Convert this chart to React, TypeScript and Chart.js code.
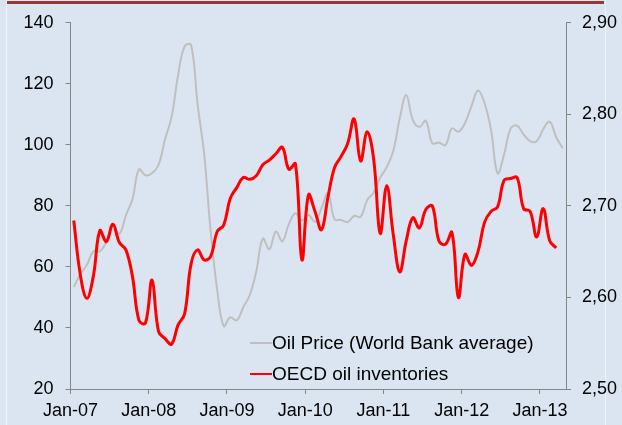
import React, { useEffect, useRef } from "react";
import { Chart, registerables } from "chart.js";

Chart.register(...registerables);

// X axis: months since Jan-07; tick labels every 12 months
const xTickLabels = ["Jan-07", "Jan-08", "Jan-09", "Jan-10", "Jan-11", "Jan-12", "Jan-13"];
const xTickMonths = [0, 12, 24, 36, 48, 60, 72];
const xMaxMonth = 76;

// Left axis (oil price, USD/bbl)
const leftTicks = [20, 40, 60, 80, 100, 120, 140];
// Right axis (OECD inventories, billion bbl)
const rightTicks = [2.5, 2.6, 2.7, 2.8, 2.9];
const rightTickLabels = ["2,50", "2,60", "2,70", "2,80", "2,90"];

const seriesNames = ["Oil Price (World Bank average)", "OECD oil inventories"];

// Monthly values, Jan-07 .. Apr-13
const oilPrice = [
  53.4, 57.6, 60.6, 65.1, 65.1, 68.2, 73.5, 70.8, 76.9, 82.2, 92.0, 90.0,
  90.7, 93.4, 101.8, 109.1, 122.8, 132.3, 132.7, 113.2, 97.0, 71.6, 52.5, 40.6,
  43.5, 42.5, 46.8, 50.8, 58.6, 69.3, 65.8, 71.6, 68.4, 74.1, 77.6, 75.2,
  77.0, 74.8, 79.3, 84.2, 75.6, 75.4, 74.7, 76.7, 76.4, 81.9, 84.3, 89.2,
  92.7, 97.9, 108.7, 116.3, 108.2, 105.9, 107.9, 100.5, 100.8, 99.9, 105.4, 104.3,
  107.1, 112.7, 117.8, 113.7, 104.9, 90.7, 96.8, 105.3, 106.3, 103.4, 101.2, 101.2,
  105.1, 107.6, 102.5, 98.9,
];

// Monthly values, Jan-07 .. Mar-13
const oecdInventories = [
  2.684, 2.625, 2.599, 2.623, 2.673, 2.661, 2.680, 2.660, 2.652, 2.623,
  2.575, 2.572, 2.619, 2.563, 2.555, 2.549, 2.570, 2.582, 2.637, 2.652,
  2.641, 2.645, 2.672, 2.679, 2.708, 2.720, 2.731, 2.729, 2.733, 2.745,
  2.750, 2.757, 2.764, 2.740, 2.746, 2.641, 2.712, 2.694, 2.674, 2.710,
  2.742, 2.754, 2.768, 2.795, 2.749, 2.781, 2.751, 2.670, 2.722, 2.669,
  2.628, 2.662, 2.687, 2.676, 2.696, 2.700, 2.662, 2.658, 2.671, 2.600,
  2.647, 2.635, 2.650, 2.682, 2.694, 2.699, 2.728, 2.730, 2.731, 2.697,
  2.694, 2.666, 2.697, 2.662, 2.654,
];

const FONT = "'Liberation Sans', Arial, Helvetica, sans-serif";
const AXIS_COLOR = "#868686";

export default function App() {
  const ref = useRef<HTMLCanvasElement | null>(null);

  useEffect(() => {
    document.body.style.margin = "0";
    const canvas = ref.current;
    if (!canvas) return;

    const toPoints = (arr: number[]) => arr.map((v, i) => ({ x: i + 0.5, y: v }));

    const decor = {
      id: "decor",
      beforeDraw(chart: any) {
        const ctx = chart.ctx;
        const w = chart.width;
        const h = chart.height;
        ctx.save();
        ctx.fillStyle = "#dbe5f1";
        ctx.fillRect(0, 0, w, h);
        ctx.fillStyle = "#eef3f9";
        ctx.fillRect(6, 0, 1, h);
        ctx.fillRect(605, 0, 1, h);
        ctx.fillStyle = "#993838";
        ctx.fillRect(7, 1, 597, 3);
        ctx.restore();
      },
      afterDraw(chart: any) {
        const ctx = chart.ctx;
        const area = chart.chartArea;
        const x0 = area.right - 316;
        const y0 = area.bottom - 46;
        ctx.save();
        ctx.font = `19px ${FONT}`;
        ctx.textBaseline = "middle";
        ctx.textAlign = "left";
        chart.data.datasets.forEach((ds: any, k: number) => {
          const y = y0 + k * 31;
          ctx.strokeStyle = ds.borderColor;
          ctx.lineWidth = 2;
          ctx.beginPath();
          ctx.moveTo(x0, y);
          ctx.lineTo(x0 + 22, y);
          ctx.stroke();
          ctx.fillStyle = "#000";
          ctx.fillText(ds.label, x0 + 22, y + 1);
        });
        ctx.restore();
      },
    };

    const tickFont = { family: FONT, size: 18 };

    const chart = new Chart(canvas, {
      type: "line",
      data: {
        datasets: [
          {
            label: seriesNames[0],
            data: toPoints(oilPrice),
            borderColor: "#c0bfbf",
            borderWidth: 2,
            pointRadius: 0,
            tension: 0.4,
            yAxisID: "y",
            order: 1,
            fill: false,
          },
          {
            label: seriesNames[1],
            data: toPoints(oecdInventories),
            borderColor: "#ff0000",
            borderWidth: 3,
            pointRadius: 0,
            tension: 0.4,
            yAxisID: "y1",
            order: 0,
            fill: false,
          },
        ],
      },
      options: {
        responsive: false,
        animation: false,
        layout: { padding: { top: 13, left: 0, right: 0, bottom: 0 } },
        plugins: {
          legend: { display: false },
          tooltip: { enabled: false },
        },
        scales: {
          x: {
            type: "linear",
            min: 0,
            max: xMaxMonth,
            afterBuildTicks: (s: any) => {
              s.ticks = xTickMonths.map((v) => ({ value: v }));
            },
            afterFit: (s: any) => {
              s.height = 36;
            },
            ticks: {
              callback: (_v: any, i: number) => xTickLabels[i],
              font: tickFont,
              color: "#000",
              padding: 6,
              maxRotation: 0,
              autoSkip: false,
            },
            grid: { drawOnChartArea: false, tickLength: 5, color: AXIS_COLOR },
            border: { color: AXIS_COLOR, width: 1 },
          },
          y: {
            type: "linear",
            position: "left",
            min: 20,
            max: 140,
            afterBuildTicks: (s: any) => {
              s.ticks = leftTicks.map((v) => ({ value: v }));
            },
            afterFit: (s: any) => {
              s.width = 70.5;
            },
            ticks: {
              callback: (_v: any, i: number) => String(leftTicks[i]),
              font: tickFont,
              color: "#000",
              padding: 12,
            },
            grid: { drawOnChartArea: false, tickLength: 5, color: AXIS_COLOR },
            border: { color: AXIS_COLOR, width: 1 },
          },
          y1: {
            type: "linear",
            position: "right",
            min: 2.5,
            max: 2.9,
            afterBuildTicks: (s: any) => {
              s.ticks = rightTicks.map((v) => ({ value: v }));
            },
            afterFit: (s: any) => {
              s.width = 56;
            },
            ticks: {
              callback: (_v: any, i: number) => rightTickLabels[i],
              font: tickFont,
              color: "#000",
              padding: 11,
            },
            grid: { drawOnChartArea: false, tickLength: 5, color: AXIS_COLOR },
            border: { color: AXIS_COLOR, width: 1 },
          },
        },
      },
      plugins: [decor],
    } as any);

    return () => chart.destroy();
  }, []);

  return <canvas ref={ref} width={622} height={425} style={{ display: "block" }} />;
}
